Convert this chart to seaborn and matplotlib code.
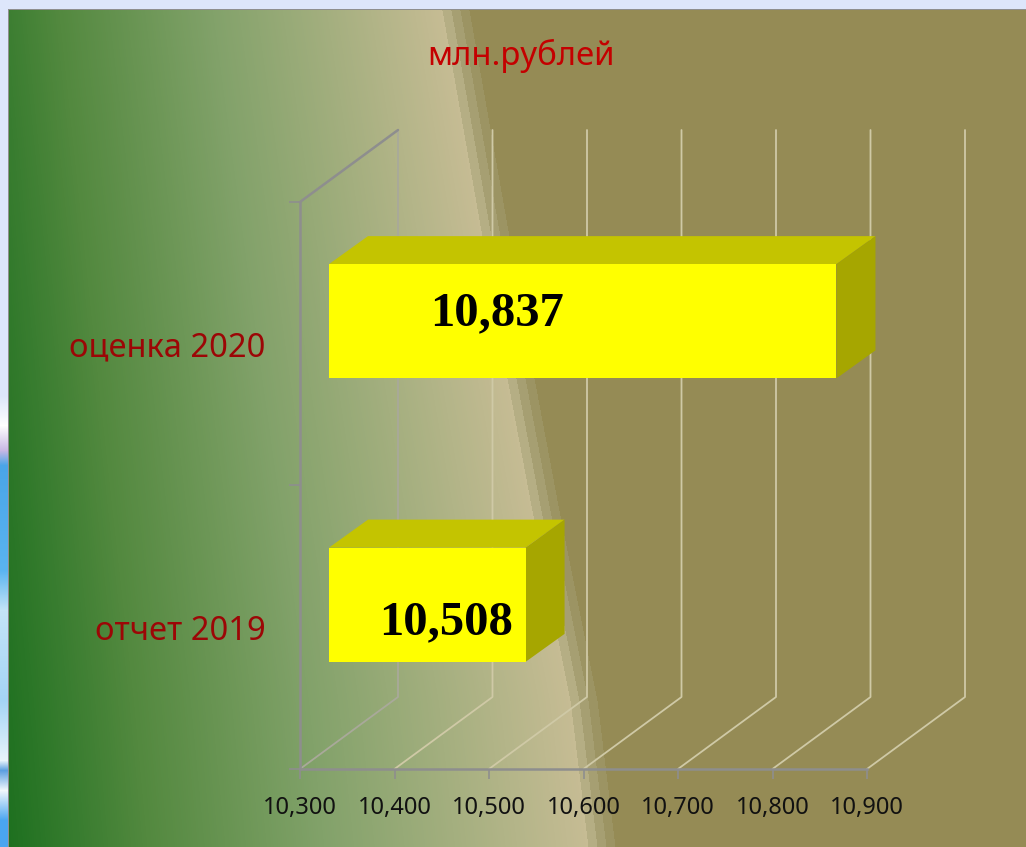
import numpy as np
import pandas as pd
import seaborn as sns
import matplotlib
matplotlib.use("Agg")
import matplotlib.pyplot as plt
from matplotlib.colors import LinearSegmentedColormap, to_rgb
from matplotlib.patches import Polygon
from matplotlib.transforms import Affine2D

# dados do grafico
categorias = ["оценка 2020", "отчет 2019"]
valores = [10837, 10508]
ticks_x = [10300, 10400, 10500, 10600, 10700, 10800, 10900]
titulo = "млн.рублей"

L, A = 1026, 847
BASE = 10300

# profundidade do falso 3D, em pixels
FRENTE = (29, 22.5)
FUNDO_BARRA = (68, 50.5)
PAREDE = (98, 72)

VERMELHO_ESCURO = "#9c0606"
CINZA = "#8e8e8e"
GRADE = "#cfc9a6"


def fundo():
    yy, xx = np.mgrid[0:A, 0:L].astype(float)
    # limite diagonal entre o degrade e a area escura
    borda = np.interp(yy, [10, 378, 500, 700, 847], [442, 507, 530, 570, 588])
    extra = 70 * (1 - yy / A)
    t = np.clip((xx + extra) / (borda + extra), 0, 1)
    cmap = LinearSegmentedColormap.from_list(
        "deg", [(0, "#1b6f1e"), (0.25, "#53893f"), (0.55, "#82a26a"), (1, "#c6bc94")])
    img = cmap(t)[:, :, :3]

    faixas = [(0, "#b5ae84"), (9, "#a69f72"), (18, "#9c9463"), (27, "#958b55")]
    for inicio, cor in faixas:
        img[xx >= borda + inicio] = to_rgb(cor)

    # borda da moldura e resto do slide
    img[:10, :] = to_rgb("#dde6fb")
    cores = ["#dde6fb", "#dde6fb", "#ffffff", "#c9b8e4", "#4aa5e8", "#5ab4f0", "#c4e4f8",
             "#a4d4f6", "#e8f4fb", "#5c9fe0", "#f2f8fc", "#4aa5f0"]
    pos = [0, 395, 425, 450, 465, 570, 610, 700, 760, 770, 790, 820]
    lateral = np.array([to_rgb(c) for c in cores])
    for i in range(3):
        img[:, :8, i] = np.interp(yy[:, :8], pos, lateral[:, i])
    img[9:10, 8:] = to_rgb("#8f8f8f")
    img[9:, 8:9] = to_rgb("#8f8f8f")
    return img


sns.set_theme(style="white")
plt.rcParams["font.family"] = ["Noto Sans", "DejaVu Sans"]

fig = plt.figure(figsize=(L / 100, A / 100), dpi=100)

ax_fundo = fig.add_axes([0, 0, 1, 1], zorder=0)
ax_fundo.imshow(fundo(), aspect="auto", interpolation="nearest")
ax_fundo.axis("off")

ax = fig.add_axes([300 / L, (A - 769) / A, 567 / L, 567 / A], zorder=1)
ax.patch.set_alpha(0)

df = pd.DataFrame({"categoria": categorias, "valor": valores})
sns.barplot(data=df, x="valor", y="categoria", orient="y", color="#ffff00",
            width=0.403, saturation=1, edgecolor="none", linewidth=0, ax=ax)

ax.set_xlim(ticks_x[0], ticks_x[-1])
ax.set_ylim(1.5, -0.5)
ax.set_xlabel("")
ax.set_ylabel("")
ax.set_title("")

# linhas de grade em perspectiva (piso + parede do fundo)
parede = ax.transData + Affine2D().translate(*PAREDE)
for i, t in enumerate(ticks_x):
    x0, y0 = ax.transData.transform((t, 1.5))
    x1, y1 = parede.transform((t, 1.5))
    x2, y2 = parede.transform((t, -0.5))
    cor = "#a9a99a" if i == 0 else GRADE
    ax.plot([x0, x1, x2], [y0, y1, y2], color=cor, lw=1.3,
            transform=None, clip_on=False, zorder=1)

# linha de cima do lado esquerdo
x0, y0 = ax.transData.transform((BASE, -0.5))
x1, y1 = parede.transform((BASE, -0.5))
ax.plot([x0, x1], [y0, y1], color=CINZA, lw=1.8, transform=None, clip_on=False, zorder=1)

# barras: move para o plano da frente e desenha topo e lateral
frente = ax.transData + Affine2D().translate(*FRENTE)
fundo_barra = ax.transData + Affine2D().translate(*FUNDO_BARRA)
for barra, v in zip(ax.patches, valores):
    centro = barra.get_y() + barra.get_height() / 2
    meia = barra.get_height() / 2
    barra.set_x(BASE)
    barra.set_width(v - BASE)
    barra.set_transform(frente)
    barra.set_clip_on(False)
    barra.set_zorder(4)

    a = frente.transform((BASE, centro - meia))
    b = frente.transform((v, centro - meia))
    c = frente.transform((v, centro + meia))
    a2 = fundo_barra.transform((BASE, centro - meia))
    b2 = fundo_barra.transform((v, centro - meia))
    c2 = fundo_barra.transform((v, centro + meia))
    ax.add_patch(Polygon([a, b, b2, a2], closed=True, facecolor="#c4c400", edgecolor="none",
                         transform=None, clip_on=False, zorder=3))
    ax.add_patch(Polygon([b, c, c2, b2], closed=True, facecolor="#a6a600", edgecolor="none",
                         transform=None, clip_on=False, zorder=3))

# rotulos dos valores
deslocamentos = [(197.5, 30), (146, 5)]
for i, (v, d) in enumerate(zip(valores, deslocamentos)):
    ax.annotate(f"{v:,}", xy=(BASE, i), xytext=d, textcoords="offset pixels",
                family="Liberation Serif", fontweight="bold", fontsize=35, color="black",
                ha="center", va="center", zorder=6, annotation_clip=False)

# eixos
sns.despine(ax=ax, top=True, right=True)
for lado in ["left", "bottom"]:
    ax.spines[lado].set_color(CINZA)
    ax.spines[lado].set_linewidth(1.8)
    ax.spines[lado].set_zorder(2)

ax.set_xticks(ticks_x)
ax.set_xticklabels([f"{t:,}" for t in ticks_x], fontsize=17, color="#111111")
ax.tick_params(axis="x", bottom=True, length=7, width=1.2, color=CINZA, pad=12.5)
ax.set_yticks([-0.5, 0.5, 1.5], minor=True)
ax.tick_params(axis="y", which="minor", left=True, length=8, width=1.2, color=CINZA)
ax.tick_params(axis="y", which="major", left=False, length=0, pad=25)
ax.set_yticks([0, 1])
ax.set_yticklabels(categorias, fontsize=23.5, color=VERMELHO_ESCURO)

fig.text(521.5 / L, 1 - 56 / A, titulo, color="#c40000", fontsize=23.7, ha="center", va="center")

fig.savefig("out.png", dpi=100)
